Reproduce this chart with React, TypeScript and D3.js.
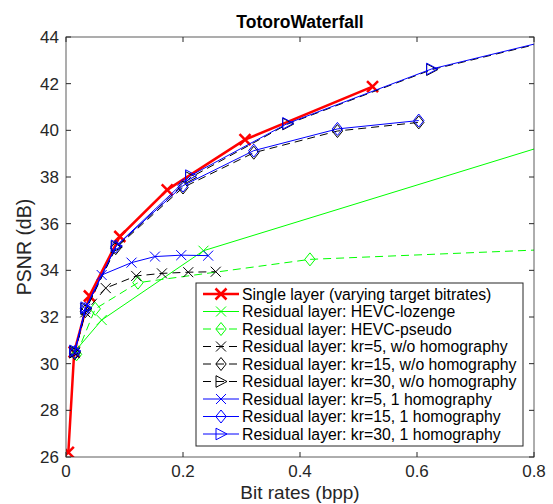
import React from "react";
import * as d3 from "d3";

// series values (bit rate in bpp, PSNR in dB)
const singleX = [0.004, 0.014, 0.04, 0.092, 0.173, 0.306, 0.524];
const singleY = [26.2, 30.5, 32.9, 35.45, 37.45, 39.6, 41.87];

const lozengeX = [0.016, 0.061, 0.235, 0.9];
const lozengeY = [30.55, 31.87, 34.84, 39.97];

const pseudoX = [0.018, 0.05, 0.123, 0.417, 0.9];
const pseudoY = [30.4, 32.35, 33.47, 34.47, 34.97];

const kr5woX = [0.015, 0.033, 0.068, 0.12, 0.164, 0.209, 0.256];
const kr5woY = [30.45, 32.2, 33.24, 33.76, 33.87, 33.92, 33.94];

const kr15woX = [0.015, 0.033, 0.085, 0.2, 0.321, 0.464, 0.603];
const kr15woY = [30.45, 32.25, 34.95, 37.55, 39.04, 39.97, 40.34];

const kr30woX = [0.015, 0.034, 0.086, 0.213, 0.379, 0.625, 0.88];
const kr30woY = [30.5, 32.35, 35.0, 37.98, 40.27, 42.6, 44.15];

const kr5hX = [0.015, 0.033, 0.061, 0.112, 0.152, 0.197, 0.243];
const kr5hY = [30.5, 32.35, 33.8, 34.33, 34.59, 34.65, 34.63];

const kr15hX = [0.015, 0.033, 0.085, 0.2, 0.321, 0.464, 0.603];
const kr15hY = [30.5, 32.35, 35.02, 37.63, 39.13, 40.06, 40.42];

const kr30hX = [0.015, 0.034, 0.086, 0.213, 0.379, 0.625, 0.88];
const kr30hY = [30.55, 32.4, 35.05, 38.06, 40.3, 42.63, 44.18];

const xTicks = [0, 0.2, 0.4, 0.6, 0.8];
const yTicks = [26, 28, 30, 32, 34, 36, 38, 40, 42, 44];

type Series = {
  name: string;
  xs: number[];
  ys: number[];
  color: string;
  marker: "x" | "diamond" | "tri";
  dash?: string;
  width: number;
  big?: boolean;
};

const series: Series[] = [
  { name: "Single layer (varying target bitrates)", xs: singleX, ys: singleY, color: "#ff0000", marker: "x", width: 2.5, big: true },
  { name: "Residual layer: HEVC-lozenge", xs: lozengeX, ys: lozengeY, color: "#00ff00", marker: "x", width: 1 },
  { name: "Residual layer: HEVC-pseudo", xs: pseudoX, ys: pseudoY, color: "#00ff00", marker: "diamond", dash: "8,5", width: 1 },
  { name: "Residual layer: kr=5, w/o homography", xs: kr5woX, ys: kr5woY, color: "#000000", marker: "x", dash: "8,5", width: 1 },
  { name: "Residual layer: kr=15, w/o homography", xs: kr15woX, ys: kr15woY, color: "#000000", marker: "diamond", dash: "8,5", width: 1 },
  { name: "Residual layer: kr=30, w/o homography", xs: kr30woX, ys: kr30woY, color: "#000000", marker: "tri", dash: "8,5", width: 1 },
  { name: "Residual layer: kr=5, 1 homography", xs: kr5hX, ys: kr5hY, color: "#0000ff", marker: "x", width: 1 },
  { name: "Residual layer: kr=15, 1 homography", xs: kr15hX, ys: kr15hY, color: "#0000ff", marker: "diamond", width: 1 },
  { name: "Residual layer: kr=30, 1 homography", xs: kr30hX, ys: kr30hY, color: "#0000ff", marker: "tri", width: 1 },
];

const W = 553;
const H = 504;
const left = 66, right = 534, top = 37, bottom = 457;
const axisColor = "#262626";
const font = "'Liberation Sans', Arial, Helvetica, sans-serif";

const Marker = ({ s, x, y }: { s: Series; x: number; y: number }) => {
  if (s.marker === "x") {
    const r = s.big ? 5.5 : 5;
    return (
      <path
        d={`M${x - r},${y - r}L${x + r},${y + r}M${x - r},${y + r}L${x + r},${y - r}`}
        stroke={s.color}
        strokeWidth={s.big ? 2.5 : 1}
        fill="none"
      />
    );
  }
  if (s.marker === "diamond") {
    return (
      <path
        d={`M${x},${y - 6.5}L${x + 5.2},${y}L${x},${y + 6.5}L${x - 5.2},${y}Z`}
        stroke={s.color}
        strokeWidth={1}
        fill="none"
      />
    );
  }
  return (
    <path
      d={`M${x - 5},${y - 5.8}L${x + 6},${y}L${x - 5},${y + 5.8}Z`}
      stroke={s.color}
      strokeWidth={1}
      fill="none"
    />
  );
};

export default function App() {
  const x = d3.scaleLinear().domain([0, 0.8]).range([left, right]);
  const y = d3.scaleLinear().domain([26, 44]).range([bottom, top]);

  const pathFor = (s: Series) =>
    d3
      .line<[number, number]>()
      .x((d) => x(d[0]))
      .y((d) => y(d[1]))(s.xs.map((v, i) => [v, s.ys[i]] as [number, number])) || "";

  const legX = 196, legY = 283, legW = 327, legH = 163;
  const rowH = 17.5;

  return (
    <div style={{ position: "absolute", left: 0, top: 0 }}>
      <svg width={W} height={H} style={{ display: "block", background: "#fff" }} fontFamily={font}>
        <defs>
          <clipPath id="plotClip">
            <rect x={left} y={top} width={right - left} height={bottom - top} />
          </clipPath>
        </defs>
        <rect x={0} y={0} width={W} height={H} fill="#fff" />

        <g clipPath="url(#plotClip)">
          {series.map((s, i) => (
            <g key={i}>
              <path
                d={pathFor(s)}
                fill="none"
                stroke={s.color}
                strokeWidth={s.width}
                strokeDasharray={s.dash}
              />
              {s.xs.map((v, j) => (
                <Marker key={j} s={s} x={x(v)} y={y(s.ys[j])} />
              ))}
            </g>
          ))}
        </g>

        {/* axes box */}
        <rect x={left} y={top} width={right - left} height={bottom - top} fill="none" stroke={axisColor} strokeWidth={1} strokeOpacity={0.75} />
        {xTicks.map((t) => (
          <g key={"x" + t}>
            <line x1={x(t)} x2={x(t)} y1={bottom} y2={bottom - 5} stroke={axisColor} />
            <line x1={x(t)} x2={x(t)} y1={top} y2={top + 5} stroke={axisColor} />
            <text x={x(t)} y={477} textAnchor="middle" fontSize={17} fill={axisColor}>
              {t === 0 ? "0" : d3.format(".1f")(t)}
            </text>
          </g>
        ))}
        {yTicks.map((t) => (
          <g key={"y" + t}>
            <line x1={left} x2={left + 5} y1={y(t)} y2={y(t)} stroke={axisColor} />
            <line x1={right} x2={right - 5} y1={y(t)} y2={y(t)} stroke={axisColor} />
            <text x={59} y={y(t)} dy="0.35em" textAnchor="end" fontSize={17} fill={axisColor}>
              {t}
            </text>
          </g>
        ))}

        <text x={(left + right) / 2} y={28} textAnchor="middle" fontSize={17.5} fontWeight="bold" fill="#000">
          TotoroWaterfall
        </text>
        <text x={(left + right) / 2} y={499} textAnchor="middle" fontSize={19} fill={axisColor}>
          Bit rates (bpp)
        </text>
        <text
          transform={`translate(31,${(top + bottom) / 2}) rotate(-90)`}
          textAnchor="middle"
          fontSize={19.5}
          fill={axisColor}
        >
          PSNR (dB)
        </text>

        {/* legend */}
        <rect x={legX} y={legY} width={legW} height={legH} fill="#fff" stroke={axisColor} strokeWidth={1} />
        {series.map((s, i) => {
          const cy = legY + 11 + i * rowH;
          return (
            <g key={"l" + i}>
              <line x1={203} x2={239} y1={cy} y2={cy} stroke={s.color} strokeWidth={s.width} strokeDasharray={s.dash ? "8,5" : undefined} />
              <Marker s={s} x={221} y={cy} />
              <text x={242} y={cy} dy="0.35em" fontSize={15.8} fill="#000">
                {s.name}
              </text>
            </g>
          );
        })}
      </svg>
    </div>
  );
}
